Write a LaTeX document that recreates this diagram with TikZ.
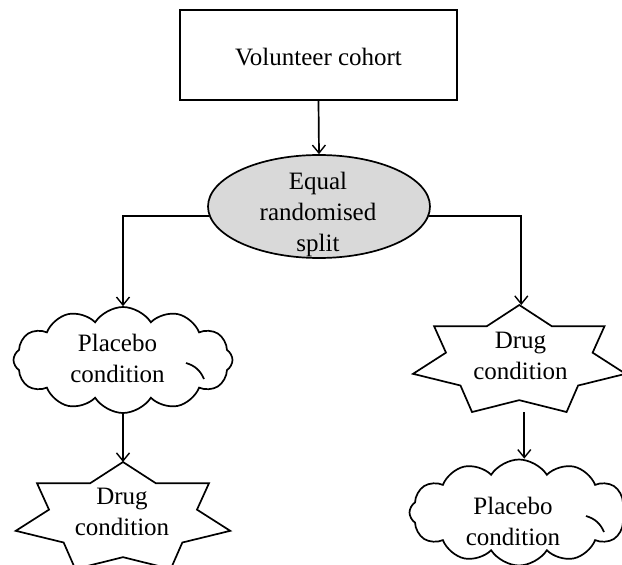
\documentclass[tikz,border=0pt]{standalone}
\usepackage{fontspec}
\setmainfont{Liberation Serif}
\usetikzlibrary{shapes.geometric,shapes.symbols,arrows.meta}
\definecolor{splitgray}{RGB}{217,217,217}
\begin{document}
\begin{tikzpicture}[x=1pt,y=-1pt,
  shapeline/.style={draw=black, line width=1.7pt},
  labeltext/.style={align=center, font=\fontsize{25}{31}\selectfont, inner sep=0pt},
  flow/.style={draw=black, line width=1.7pt, -{Straight Barb[length=8pt,width=13pt,line width=1.4pt]}},
  puffy/.style={shapeline, cloud, cloud puffs=12, cloud puff arc=115, aspect=2.1,
                minimum width=219pt, minimum height=106pt, inner sep=0pt, fill=white},
  innerarc/.style={draw=black, line width=1.7pt},
  sevenstar/.style={shapeline, fill=white, line join=miter},
]
\useasboundingbox (0,0) rectangle (622,565);

% top box
\node[shapeline, rectangle, minimum width=277pt, minimum height=90pt, inner sep=0pt] (cohort) at (318.5,55) {};
\node[labeltext] (cohort-text) at (318.5,57) {Volunteer cohort};

% randomisation ellipse
\node[shapeline, ellipse, fill=splitgray, minimum width=222pt, minimum height=103pt, inner sep=0pt] (split) at (319,206.5) {};
\node[labeltext] (split-text) at (318,214) {Equal\\randomised\\split};

% left branch: cloud then star
\node[puffy] (lcloud) at (123,360) {};
\draw[innerarc] (186,363) to[bend left=25] (204,379);
\node[labeltext] (lcloud-text) at (117.5,358) {Placebo\\condition};

\begin{scope}[shift={(123,518.3)}]
  \draw[sevenstar] (0,-56.3) \foreach \i in {1,...,13}{
    -- ({(mod(\i,2)==0 ? 1 : 0.69)*110*sin(\i*180/7)}, {-(mod(\i,2)==0 ? 1 : 0.69)*56.3*cos(\i*180/7)}) } -- cycle;
  \coordinate (lstar-top) at (0,-56.3);
\end{scope}
\node[labeltext] (lstar-text) at (122,512) {Drug\\condition};

% right branch: star then cloud
\begin{scope}[shift={(519.3,361.3)}]
  \draw[sevenstar] (0,-56.3) \foreach \i in {1,...,13}{
    -- ({(mod(\i,2)==0 ? 1 : 0.69)*109*sin(\i*180/7)}, {-(mod(\i,2)==0 ? 1 : 0.69)*56.3*cos(\i*180/7)}) } -- cycle;
  \coordinate (rstar-top) at (2,-56.3);
  \coordinate (rstar-bot) at (5,50.7);
\end{scope}
\node[labeltext] (rstar-text) at (520.5,356) {Drug\\condition};

\node[puffy] (rcloud) at (519,512.5) {};
\draw[innerarc] (586,516) to[bend left=25] (604,532);
\node[labeltext] (rcloud-text) at (513,521) {Placebo\\condition};

% connectors
\draw[flow] (cohort.south) -- (split.north);
\draw[flow] (split.185) -| (lcloud.north);
\draw[flow] (split.355) -| (rstar-top);
\draw[flow] (lcloud.south) -- (lstar-top);
\draw[flow] (rstar-bot) -- (rstar-bot |- rcloud.north);
\end{tikzpicture}
\end{document}
